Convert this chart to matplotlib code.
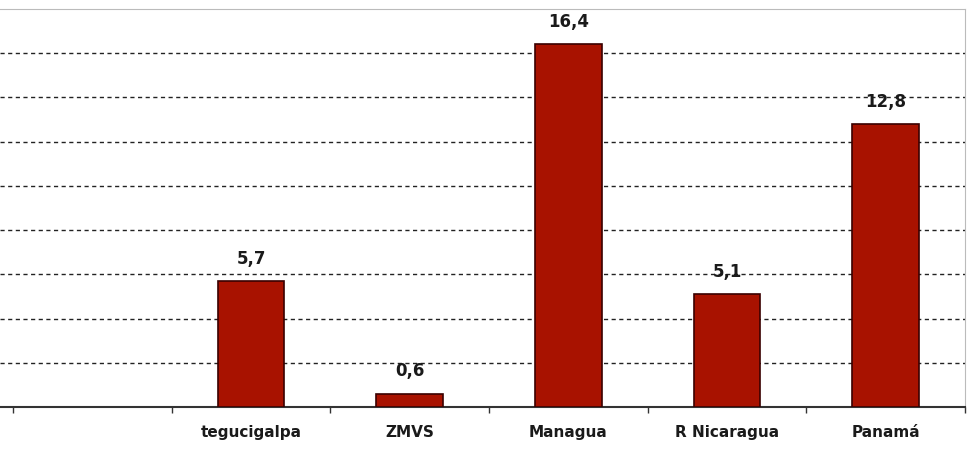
import matplotlib
matplotlib.use("Agg")
import matplotlib.pyplot as plt
import numpy as np

# data (first slot is empty in the source chart)
categories = ['', 'tegucigalpa', 'ZMVS', 'Managua', 'R Nicaragua', 'Panamá']
values = [np.nan, 5.7, 0.6, 16.4, 5.1, 12.8]
value_labels = ['', '5,7', '0,6', '16,4', '5,1', '12,8']

fig = plt.figure(figsize=(9.72, 4.74), dpi=100)
ax = fig.add_axes([0.0, 0.1414, 0.9928, 0.8396])

x = np.arange(len(categories))
ax.bar(x, values, width=0.42, color='#a81200', edgecolor='#3a0000', linewidth=1.2, zorder=3)

for xi, v, lab in zip(x, values, value_labels):
    if not np.isnan(v):
        ax.text(xi, v + 0.6, lab, ha='center', va='bottom', fontsize=12,
                fontweight='bold', color='#1a1a1a', zorder=4)

ax.set_xlim(-0.582, 5.5)
ax.set_ylim(0, 18)

# horizontal dashed grid
ax.set_yticks(np.arange(2, 17, 2))
ax.yaxis.grid(True, linestyle=(0, (3, 2.5)), color='#222222', linewidth=1.0, zorder=1)
ax.tick_params(axis='y', left=False, labelleft=False)

# ticks between categories, labels at centres
ax.set_xticks(np.arange(-0.5, 5.6, 1.0))
ax.set_xticklabels([])
ax.tick_params(axis='x', direction='out', length=4, width=1, color='#333333')
for xi, c in zip(x, categories):
    ax.text(xi, -0.045, c, transform=ax.get_xaxis_transform(), ha='center', va='top',
            fontsize=11, fontweight='bold', color='#1a1a1a')

ax.spines['left'].set_visible(False)
ax.spines['top'].set_color('#bbbbbb')
ax.spines['right'].set_color('#bbbbbb')
ax.spines['bottom'].set_color('#333333')
ax.spines['bottom'].set_linewidth(1.5)

fig.savefig('out.png', dpi=100)
